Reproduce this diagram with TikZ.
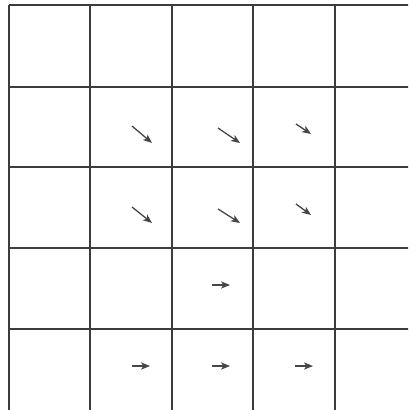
\documentclass[tikz,border=0pt]{standalone}
\usepackage{tikz}
\usetikzlibrary{arrows.meta}
\definecolor{gridline}{RGB}{60,60,60}
\definecolor{flowgray}{RGB}{70,70,70}

\tikzset{
  gridrule/.style={draw=gridline, line width=0.8pt},
  flowarrow/.style={draw=flowgray, line width=0.65pt, -{Stealth[length=4.5pt, width=3.6pt, inset=1.2pt]}}
}

\begin{document}
\begin{tikzpicture}[x=0.5pt, y=-0.5pt]
  \useasboundingbox (0,0) rectangle (408,410);
  \begin{scope}
    \clip (0,0) rectangle (408,410);
    % grid lines
    \foreach \gx in {9, 90, 172, 253, 335}
      \draw[gridrule] (\gx,5) -- (\gx,420);
    \foreach \gy in {5, 87, 167, 248, 329}
      \draw[gridrule] (9,\gy) -- (420,\gy);
  \end{scope}

  % flow in second row
  \draw[flowarrow] (132,126) -- (152,143);
  \draw[flowarrow] (218,128) -- (240,143);
  \draw[flowarrow] (296,124) -- (311,134);

  % flow in third row
  \draw[flowarrow] (132,207) -- (152,223);
  \draw[flowarrow] (218,209) -- (240,223);
  \draw[flowarrow] (296,204) -- (311,215);

  % flow in fourth row
  \draw[flowarrow] (212,285) -- (230,285);

  % flow in fifth row
  \draw[flowarrow] (132,366) -- (150,366);
  \draw[flowarrow] (212,366) -- (230,366);
  \draw[flowarrow] (295,366) -- (313,366);
\end{tikzpicture}
\end{document}
